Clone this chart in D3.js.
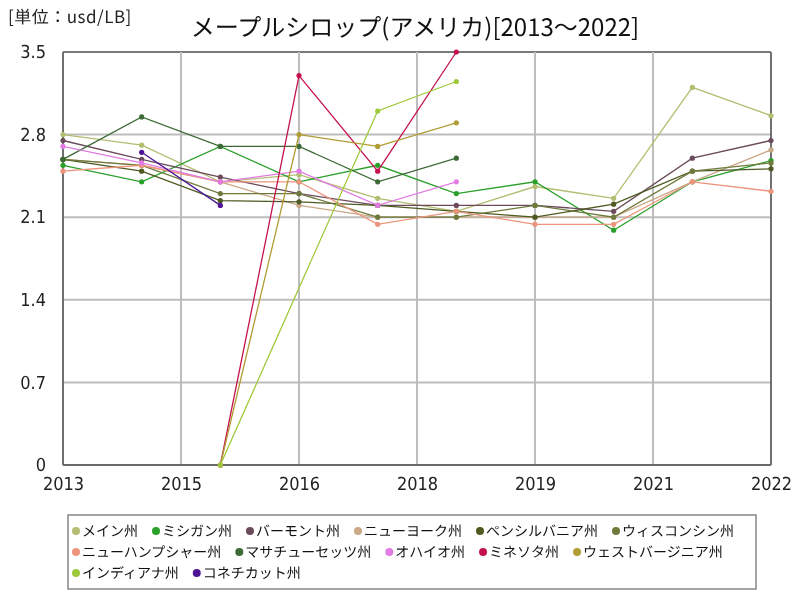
<!DOCTYPE html>
<html><head><meta charset="utf-8">
<script src="https://cdn.jsdelivr.net/npm/d3@7"></script>
<style>
body{margin:0;background:#fff;-webkit-font-smoothing:antialiased;}
svg{display:block;will-change:transform;}
text{text-rendering:geometricPrecision;}
</style></head><body>
<svg id="chart" width="800" height="600"></svg>
<script>
const years = [2013,2014,2015,2016,2017,2018,2019,2020,2021,2022];
const xTickValues = [2013,2014.5,2016,2017.5,2019,2020.5,2022];
const xTickLabels = ["2013","2015","2016","2018","2019","2021","2022"];
const yTickValues = [0,0.7,1.4,2.1,2.8,3.5];
const yTickLabels = ["0","0.7","1.4","2.1","2.8","3.5"];

const stateNames = ["メイン州","ミシガン州","バーモント州","ニューヨーク州","ペンシルバニア州","ウィスコンシン州","ニューハンプシャー州","マサチューセッツ州","オハイオ州","ミネソタ州","ウェストバージニア州","インディアナ州","コネチカット州"];
const stateColors = ["#b4bd72","#2aa02a","#6a4b5b","#c9a887","#4e5a22","#6e7a3c","#ec957c","#3d6a36","#e27ce4","#c6124c","#b19c35","#9fc93b","#4d1496"];

const maine        = [2.80,2.71,2.40,2.46,2.26,2.15,2.36,2.26,3.20,2.96];
const michigan     = [2.54,2.40,2.70,2.40,2.54,2.30,2.40,1.99,2.40,2.58];
const vermont      = [2.75,2.59,2.44,2.30,2.20,2.20,2.20,2.15,2.60,2.75];
const newYork      = [2.59,2.54,2.40,2.20,2.10,2.10,2.10,2.10,2.40,2.67];
const pennsylvania = [2.59,2.49,2.24,2.23,2.20,2.15,2.10,2.21,2.49,2.51];
const wisconsin    = [2.59,2.54,2.30,2.30,2.10,2.10,2.20,2.10,2.49,2.56];
const newHampshire = [2.49,2.54,2.40,2.40,2.04,2.15,2.04,2.04,2.40,2.32];
const massachusetts= [2.59,2.95,2.70,2.70,2.40,2.60,null,null,null,null];
const ohio         = [2.70,2.56,2.40,2.49,2.20,2.40,null,null,null,null];
const minnesota    = [null,null,0,3.30,2.49,3.50,null,null,null,null];
const westVirginia = [null,null,0,2.80,2.70,2.90,null,null,null,null];
const indiana      = [null,null,0,null,3.00,3.25,null,null,null,null];
const connecticut  = [null,2.65,2.20,null,null,null,null,null,null,null];

const seriesValues = [maine,michigan,vermont,newYork,pennsylvania,wisconsin,newHampshire,massachusetts,ohio,minnesota,westVirginia,indiana,connecticut];

const svg = d3.select("#chart");
const L=63,R=771,T=52,B=465;
const x = d3.scaleLinear().domain([2013,2022]).range([L,R]);
const y = d3.scaleLinear().domain([0,3.5]).range([B,T]);
const numFont = "'Liberation Sans Narrow','DejaVu Sans Condensed',sans-serif";
const jpFont = "'Noto Sans CJK JP',sans-serif";

// title
svg.append("text").attr("x",8).attr("y",23).attr("font-family",jpFont).attr("font-size",17).attr("letter-spacing",0.5).attr("fill","#222").text("[単位：usd/LB]");
svg.append("text").attr("x",415).attr("y",36).attr("text-anchor","middle").attr("font-family",jpFont).attr("font-size",24).attr("fill","#111").text("メープルシロップ(アメリカ)[2013～2022]");

// grid
const g = svg.append("g");
g.selectAll(".hg").data(yTickValues).join("line")
 .attr("x1",L).attr("x2",R).attr("y1",d=>y(d)).attr("y2",d=>y(d))
 .attr("stroke",(d,i)=> i===yTickValues.length-1 ? "#7a7a7a":"#bdbdbd").attr("stroke-width",2);
g.selectAll(".vg").data(xTickValues).join("line")
 .attr("x1",d=>x(d)).attr("x2",d=>x(d)).attr("y1",T).attr("y2",B)
 .attr("stroke",(d,i)=> (i===0||i===xTickValues.length-1) ? "#707070":"#bdbdbd").attr("stroke-width",2);
g.append("line").attr("x1",L).attr("x2",R).attr("y1",B).attr("y2",B).attr("stroke","#6a6a6a").attr("stroke-width",2);

// axes labels via d3 axes
const yAxis = d3.axisLeft(y).tickValues(yTickValues).tickFormat((d,i)=>yTickLabels[i]).tickSize(0).tickPadding(17);
const ya = svg.append("g").attr("transform",`translate(${L},0)`).call(yAxis);
ya.select(".domain").remove();
ya.selectAll("text").attr("font-family",numFont).attr("font-size",18).attr("fill","#222");

const xAxis = d3.axisBottom(x).tickValues(xTickValues).tickFormat((d,i)=>xTickLabels[i]).tickSize(0).tickPadding(12);
const xa = svg.append("g").attr("transform",`translate(0,${B})`).call(xAxis);
xa.select(".domain").remove();
xa.selectAll("text").attr("font-family",numFont).attr("font-size",18).attr("fill","#222");

// lines
const line = d3.line().x(d=>x(d.year)).y(d=>y(d.v));
seriesValues.forEach((vals,i)=>{
  const pts = years.map((yr,j)=>({year:yr,v:vals[j]})).filter(d=>d.v!==null);
  svg.append("path").datum(pts).attr("d",line).attr("fill","none").attr("stroke",stateColors[i]).attr("stroke-width",1.3);
  svg.selectAll(null).data(pts).join("circle").attr("cx",d=>x(d.year)).attr("cy",d=>y(d.v)).attr("r",2.6).attr("fill",stateColors[i]);
});

// legend
const lg = svg.append("g");
lg.append("rect").attr("x",68).attr("y",515).attr("width",688).attr("height",74).attr("fill","#fff").attr("stroke","#888").attr("stroke-width",1.5);
let lx=76, ly=531, maxX=745;
stateNames.forEach((name,i)=>{
  const tmp = lg.append("text").attr("font-family",jpFont).attr("font-size",14).text(name);
  const w = tmp.node().getComputedTextLength();
  if(lx+6+w>maxX){ lx=76; ly+=21; }
  lg.append("circle").attr("cx",lx).attr("cy",ly).attr("r",4).attr("fill",stateColors[i]);
  tmp.attr("x",lx+6).attr("y",ly+5).attr("fill","#111");
  lx += 6+w+18;
});
</script>
</body></html>
